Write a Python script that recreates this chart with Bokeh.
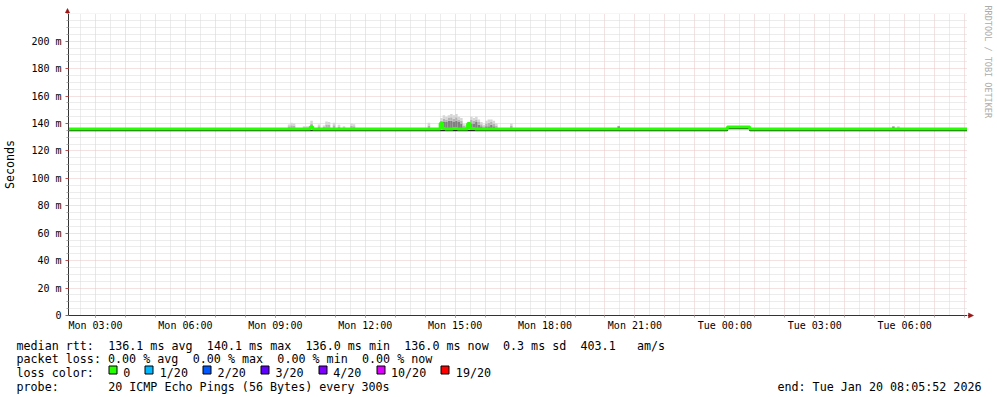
import re
import pandas as pd
from bokeh.plotting import figure
from bokeh.layouts import column, row
from bokeh.models import FixedTicker, Label, Range1d, DatetimeTickFormatter
from bokeh.embed import file_html
from bokeh.resources import INLINE

# ---------------- data ----------------
start_time = "2026-01-19 02:05:52"
end_time = "2026-01-20 08:05:52"

x_tick_times = ["2026-01-19 03:00", "2026-01-19 06:00", "2026-01-19 09:00",
                "2026-01-19 12:00", "2026-01-19 15:00", "2026-01-19 18:00",
                "2026-01-19 21:00", "2026-01-20 00:00", "2026-01-20 03:00",
                "2026-01-20 06:00"]
x_tick_labels = ["Mon 03:00", "Mon 06:00", "Mon 09:00", "Mon 12:00", "Mon 15:00",
                 "Mon 18:00", "Mon 21:00", "Tue 00:00", "Tue 03:00", "Tue 06:00"]

y_tick_values = [0, 20, 40, 60, 80, 100, 120, 140, 160, 180, 200]
y_tick_labels = ["0", "20 m", "40 m", "60 m", "80 m", "100 m", "120 m",
                 "140 m", "160 m", "180 m", "200 m"]

# median RTT in ms (step series, value holds until next time)
median_times = ["2026-01-19 02:05:52", "2026-01-19 10:10", "2026-01-19 10:15",
                "2026-01-19 14:30", "2026-01-19 14:35", "2026-01-19 14:40",
                "2026-01-19 14:55", "2026-01-19 15:05", "2026-01-19 15:25",
                "2026-01-19 15:30", "2026-01-19 15:40", "2026-01-20 00:05",
                "2026-01-20 00:50", "2026-01-20 08:05:52"]
median_ms = [136.0, 137.6, 136.0, 140.1, 136.4, 136.0, 136.4, 136.0, 140.0,
             136.3, 136.0, 137.5, 136.0, 136.0]

# lowest pings (dark smoke just under the median)
low_times = ["2026-01-19 02:05:52", "2026-01-20 00:05", "2026-01-20 00:50",
             "2026-01-20 08:05:52"]
low_ms = [134.8, 136.3, 134.8, 134.8]

# smoke columns: time, upper-quartile ping and highest ping (ms)
smoke_times = ["2026-01-19 09:25", "2026-01-19 09:30", "2026-01-19 09:35",
               "2026-01-19 09:55", "2026-01-19 10:00", "2026-01-19 10:05",
               "2026-01-19 10:10", "2026-01-19 10:25", "2026-01-19 10:35",
               "2026-01-19 10:40", "2026-01-19 10:45", "2026-01-19 10:55",
               "2026-01-19 11:05", "2026-01-19 11:15", "2026-01-19 11:30",
               "2026-01-19 11:35",
               "2026-01-19 14:05", "2026-01-19 14:30", "2026-01-19 14:35",
               "2026-01-19 14:40", "2026-01-19 14:45", "2026-01-19 14:50",
               "2026-01-19 14:55", "2026-01-19 15:00", "2026-01-19 15:05",
               "2026-01-19 15:10", "2026-01-19 15:15", "2026-01-19 15:20",
               "2026-01-19 15:25", "2026-01-19 15:30", "2026-01-19 15:35",
               "2026-01-19 15:40", "2026-01-19 15:45", "2026-01-19 15:50",
               "2026-01-19 15:55", "2026-01-19 16:00", "2026-01-19 16:05",
               "2026-01-19 16:10", "2026-01-19 16:15", "2026-01-19 16:20",
               "2026-01-19 16:50", "2026-01-19 20:25", "2026-01-20 05:35",
               "2026-01-20 05:45"]
smoke_q3 = [136.5, 136.8, 137.0, 136.5, 136.5, 136.5, 138.0, 136.5, 136.5,
            137.0, 137.0, 136.8, 136.5, 136.5, 136.8, 136.5,
            136.5, 140.0, 141.0, 141.0, 142.0, 142.0, 141.0, 142.0, 141.0,
            140.0, 137.0, 137.0, 139.0, 140.0, 140.0, 141.0, 139.0, 138.0,
            137.0, 138.0, 138.0, 139.0, 138.0, 137.0,
            136.3, 138.0, 137.8, 136.5]
smoke_max = [139.3, 140.5, 140.0, 138.0, 138.0, 138.0, 142.0, 139.3, 138.5,
             141.4, 141.0, 140.5, 139.0, 138.0, 140.0, 139.5,
             140.5, 144.0, 146.0, 145.0, 146.0, 147.0, 146.0, 147.0, 145.0,
             144.0, 139.5, 139.0, 141.0, 145.0, 144.0, 145.0, 143.0, 141.0,
             139.0, 142.0, 143.0, 143.0, 142.0, 140.0,
             140.0, 138.3, 138.0, 138.0]
smoke_base = 136.0

rtt_stats = [("136.1", "ms avg"), ("140.1", "ms max"), ("136.0", "ms min"),
             ("136.0", "ms now")]
rtt_sd = "0.3"
rtt_ams = "403.1"
loss_stats = [("0.00", "% avg"), ("0.00", "% max"), ("0.00", "% min"),
              ("0.00", "% now")]
loss_labels = ["0", "1/20", "2/20", "3/20", "4/20", "10/20", "19/20"]
loss_colors = ["#26ff00", "#00b8ff", "#0059ff", "#5e00ff", "#7e00ff",
               "#dd00ff", "#ff0000"]
probe_text = "20 ICMP Echo Pings (56 Bytes) every 300s"
end_text = "end: Tue Jan 20 08:05:52 2026"
watermark = "RRDTOOL / TOBI OETIKER"

# ---------------- layout constants ----------------
def ms(t):
    return pd.Timestamp(t).value // 10**6

FIVE_MIN = 5 * 60 * 1000
FONT = "DejaVu Sans Mono"
W, H = 997, 397
FRAME_L, FRAME_R, FRAME_T, FRAME_B = 67, 967, 13, 315
MAIN_BOTTOM = 335
Y_MAX = 220.2
GRID_RED = "#e8c2c2"
GRID_GRAY = "#d9d9d9"
AXIS_COL = "#333333"
ARROW_RED = "#9a1515"


def blank(width, height, x0, x1, y_bottom, y_top):
    f = figure(frame_width=width, frame_height=height, title=None,
               x_axis_type=None, y_axis_type=None,
               output_backend="svg", toolbar_location=None,
               x_range=Range1d(x0, x1), y_range=Range1d(y_bottom, y_top),
               min_border=0)
    f.min_border_left = f.min_border_right = f.min_border_top = f.min_border_bottom = 0
    f.outline_line_color = None
    f.background_fill_color = "white"
    f.border_fill_color = "white"
    f.grid.visible = False
    return f

# ---------------- main chart ----------------
x0, x1 = ms(start_time), ms(end_time)
p = figure(width=FRAME_R, height=MAIN_BOTTOM - FRAME_T, x_axis_type="datetime",
           output_backend="svg", toolbar_location=None,
           x_range=Range1d(x0, x1), y_range=Range1d(0, Y_MAX),
           min_border_left=FRAME_L, min_border_right=0,
           min_border_top=0, min_border_bottom=MAIN_BOTTOM - FRAME_B)
p.outline_line_color = None
p.background_fill_color = "white"
p.border_fill_color = "white"

half_hours = [ms(t) for t in pd.date_range("2026-01-19 02:30", end_time, freq="30min")]
hours = [t for t in half_hours if (t // 60000) % 60 == 0]
halfs = [t for t in half_hours if t not in hours]
p.xgrid.ticker = FixedTicker(ticks=hours, minor_ticks=halfs)
y_minor = [v for v in range(0, 221, 5) if v not in y_tick_values]
p.ygrid.ticker = FixedTicker(ticks=y_tick_values, minor_ticks=y_minor)
for g in (p.xgrid[0], p.ygrid[0]):
    g.grid_line_color = GRID_RED
    g.grid_line_dash = "1 1"
    g.minor_grid_line_color = GRID_GRAY
    g.minor_grid_line_dash = "1 1"

xt = [ms(t) for t in x_tick_times]
p.xaxis.ticker = FixedTicker(ticks=xt, minor_ticks=hours)
fmt = "%a %H:%M"
p.xaxis.formatter = DatetimeTickFormatter(
    microseconds=fmt, milliseconds=fmt, seconds=fmt, minsec=fmt, minutes=fmt,
    hourmin=fmt, hours=fmt, days=fmt, months=fmt, years=fmt)
p.xaxis.major_label_overrides = {float(t): lab for t, lab in zip(xt, x_tick_labels)}
p.yaxis.ticker = FixedTicker(ticks=y_tick_values, minor_ticks=y_minor)
p.yaxis.major_label_overrides = {v: lab for v, lab in zip(y_tick_values, y_tick_labels)}

for ax in (p.xaxis[0], p.yaxis[0]):
    ax.axis_line_color = AXIS_COL
    ax.major_tick_line_color = "#c05050"
    ax.minor_tick_line_color = "#aaaaaa"
    ax.major_tick_in = 0
    ax.minor_tick_in = 0
    ax.major_label_text_font = FONT
    ax.major_label_text_font_size = "10px"
    ax.major_label_text_color = "black"
p.xaxis.major_tick_out = 2
p.xaxis.minor_tick_out = 2
p.xaxis.major_label_standoff = 2
p.yaxis.major_tick_out = 3
p.yaxis.minor_tick_out = 2
p.yaxis.major_label_standoff = 4
p.yaxis.axis_label = "Seconds"
p.yaxis.axis_label_text_font = FONT
p.yaxis.axis_label_text_font_size = "11.7px"
p.yaxis.axis_label_text_font_style = "normal"
p.yaxis.axis_label_text_color = "black"
p.yaxis.axis_label_standoff = 11

# smoke
st = [ms(t) for t in smoke_times]
sr = [t + FIVE_MIN for t in st]
mid = [(q + m) / 2 for q, m in zip(smoke_q3, smoke_max)]
p.quad(left=st, right=sr, bottom=[smoke_base] * len(st), top=smoke_q3,
       fill_color="#808080", line_color=None)
p.quad(left=st, right=sr, bottom=smoke_q3, top=mid, fill_color="#b4b4b4", line_color=None)
p.quad(left=st, right=sr, bottom=mid, top=smoke_max, fill_color="#d6d6d6", line_color=None)

# low pings and median
p.step([ms(t) for t in low_times], low_ms, mode="after", line_color="#2a2a2a", line_width=1.5)
p.step([ms(t) for t in median_times], median_ms, mode="after", line_color="#26ff00", line_width=3)

# ---------------- strip above the chart: y-axis arrow ----------------
top = blank(FRAME_R, FRAME_T, 0, FRAME_R, FRAME_T, 0)
top.segment(x0=[FRAME_L], y0=[FRAME_T], x1=[FRAME_L], y1=[FRAME_T - 4],
            line_color=AXIS_COL, line_width=1)
top.patch(x=[FRAME_L - 2.5, FRAME_L + 2.5, FRAME_L], y=[FRAME_T, FRAME_T, FRAME_T - 5],
          fill_color=ARROW_RED, line_color=ARROW_RED, line_width=0.5)

# ---------------- right strip: x-axis arrow and watermark ----------------
side = blank(W - FRAME_R, MAIN_BOTTOM, FRAME_R, W, MAIN_BOTTOM, 0)
side.segment(x0=[FRAME_R], y0=[FRAME_B], x1=[FRAME_R + 2], y1=[FRAME_B],
             line_color=AXIS_COL, line_width=1)
side.patch(x=[FRAME_R + 1, FRAME_R + 1, FRAME_R + 6],
           y=[FRAME_B - 2.5, FRAME_B + 2.5, FRAME_B],
           fill_color=ARROW_RED, line_color=ARROW_RED, line_width=0.5)
side.add_layout(Label(x=987, y=5, text=watermark, angle=-90, angle_units="deg",
                      text_align="left", text_baseline="middle", text_font=FONT,
                      text_font_size="8.5px", text_color="#ababab"))

# ---------------- legend strip ----------------
leg = blank(W, H - MAIN_BOTTOM, 0, W, H, MAIN_BOTTOM)
ADV = 7.05
LEG_X0 = 16
LEG_FS = "11.7px"


def put(text, cx, base_y, align="left"):
    leg.add_layout(Label(x=cx, y=base_y, text=text, text_font=FONT,
                         text_font_size=LEG_FS, text_baseline="alphabetic",
                         text_align=align, text_color="black"))


def put_row(text, base_y):
    for m in re.finditer(r"\S+(?: \S+)*", text):
        put(m.group(), LEG_X0 + m.start() * ADV, base_y)


row1 = "median rtt:  " + "  ".join(f"{v} {u}" for v, u in rtt_stats) + \
       f"  {rtt_sd} ms sd  {rtt_ams}   am/s"
row2 = "packet loss: " + "  ".join(f"{v} {u}" for v, u in loss_stats)
row4 = "probe:       " + probe_text
put_row(row1, 345)
put_row(row2, 358.5)
put_row("loss color:", 372)
put_row(row4, 386)
put(end_text, 981, 386, align="right")

cursor = LEG_X0 + 13 * ADV
lefts, rights = [], []
for lab in loss_labels:
    lefts.append(round(cursor) + 0.5)
    rights.append(round(cursor) + 8.5)
    tx = cursor + 15
    put(lab, tx, 372)
    cursor = tx + len(lab) * ADV + 14.6
leg.quad(left=lefts, right=rights, top=[365.5] * len(lefts), bottom=[373.5] * len(lefts),
         fill_color=loss_colors, line_color="black", line_width=1)

# the arrow strip is wrapped in its own row so that its frame is not aligned
# with the chart frame below it
layout = column(row(column(row(top), p), side), leg)
open("out.html", "w").write(file_html(layout, INLINE))
